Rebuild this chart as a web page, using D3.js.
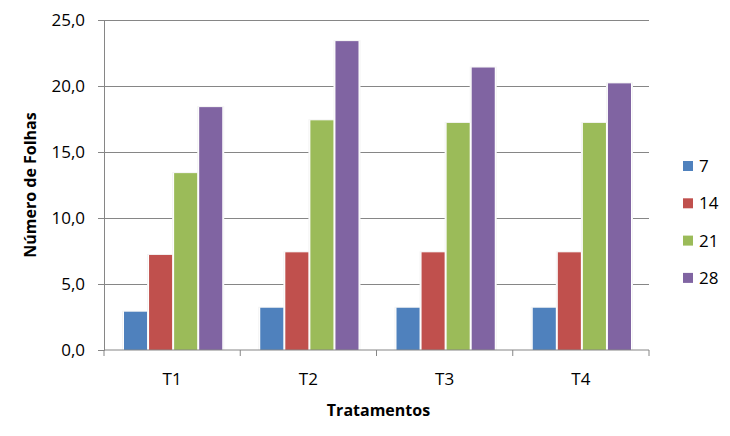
<!DOCTYPE html>
<html><head><meta charset="utf-8">
<script src="https://cdn.jsdelivr.net/npm/d3@7/dist/d3.min.js"></script>
<style>
body{margin:0;background:#fff;}
text{font-family:"Open Sans",Lato,sans-serif;fill:#000;}
</style></head>
<body><svg id="chart" width="730" height="436"></svg>
<script>
const categories = ["T1","T2","T3","T4"];
const seriesNames = ["7","14","21","28"];
const s7  = [2.9, 3.2, 3.2, 3.2];
const s14 = [7.2, 7.4, 7.4, 7.4];
const s21 = [13.4, 17.4, 17.2, 17.2];
const s28 = [18.4, 23.4, 21.4, 20.2];
const yTicks = [0,5,10,15,20,25];
const colors = ["#4F81BD","#C0504D","#9BBB59","#8064A2"];

const seriesValues = [s7, s14, s21, s28];
const svg = d3.select("#chart");
const mLeft = 104, mRight = 649, mTop = 20, mBottom = 350;

const y = d3.scaleLinear().domain([0,25]).range([mBottom, mTop]);
const x0 = d3.scaleBand().domain(categories).range([mLeft, mRight]).padding(0);
const x1 = d3.scaleBand().domain(seriesNames).range([20, x0.bandwidth()-18]).paddingInner(0.08).paddingOuter(0);
const fmt = d => d.toFixed(1).replace(".", ",");

// gridlines
svg.append("g").selectAll("line").data(yTicks.filter(t=>t>0)).join("line")
  .attr("x1", mLeft).attr("x2", mRight)
  .attr("y1", d=>y(d)).attr("y2", d=>y(d))
  .attr("stroke", "#868686").attr("stroke-width", 1).attr("shape-rendering","crispEdges");

// bars
const data = [];
categories.forEach((c,i)=>seriesNames.forEach((s,j)=>data.push({c, s, v: seriesValues[j][i], color: colors[j]})));
const gBars = svg.append("g");
gBars.selectAll("rect.sh").data(data).join("rect").attr("class","sh")
  .attr("x", d=>x0(d.c)+x1(d.s)-2)
  .attr("y", d=>y(d.v)-1)
  .attr("width", x1.bandwidth()+4)
  .attr("height", d=>mBottom-y(d.v)+1)
  .attr("fill", "#f4f4f4");
gBars.selectAll("rect.bg").data(data).join("rect").attr("class","bg")
  .attr("x", d=>x0(d.c)+x1(d.s)-1)
  .attr("y", d=>y(d.v))
  .attr("width", x1.bandwidth()+2)
  .attr("height", d=>mBottom-y(d.v))
  .attr("fill", "#fff");
gBars.selectAll("rect.bar").data(data).join("rect").attr("class","bar")
  .attr("x", d=>x0(d.c)+x1(d.s))
  .attr("y", d=>y(d.v))
  .attr("width", x1.bandwidth())
  .attr("height", d=>mBottom-y(d.v))
  .attr("fill", d=>d.color);

// y axis
const yAxis = d3.axisLeft(y).tickValues(yTicks).tickFormat(fmt).tickSize(6).tickPadding(13);
const gy = svg.append("g").attr("transform", `translate(${mLeft},0)`).call(yAxis);
gy.select(".domain").attr("stroke","#868686");
gy.selectAll(".tick line").attr("stroke","#868686");
gy.selectAll(".tick text").attr("font-size", 17).attr("font-family", "'Open Sans',sans-serif").attr("fill","#000");

// x axis
const gx = svg.append("g").attr("transform", `translate(0,${mBottom})`);
gx.append("line").attr("x1", mLeft).attr("x2", mRight).attr("y1",0).attr("y2",0).attr("stroke","#868686");
const bounds = categories.map(c=>x0(c)).concat([x0(categories[categories.length-1])+x0.bandwidth()]);
gx.selectAll("line.tk").data(bounds).join("line").attr("class","tk")
  .attr("x1", d=>d).attr("x2", d=>d).attr("y1",0).attr("y2",6).attr("stroke","#868686");
gx.selectAll("text").data(categories).join("text")
  .attr("x", d=>x0(d)+x0.bandwidth()/2).attr("y", 35)
  .attr("text-anchor","middle").attr("font-size",17).text(d=>d);

// axis titles
svg.append("text").attr("x", (mLeft+mRight)/2 + 2).attr("y", 416)
  .attr("text-anchor","middle").attr("font-size",16).attr("font-weight","bold").text("Tratamentos");
svg.append("text").attr("transform", `translate(36,${(mTop+mBottom)/2}) rotate(-90)`)
  .attr("text-anchor","middle").attr("font-size",16).attr("font-weight","bold").text("Número de Folhas");

// legend
const lg = svg.append("g").selectAll("g").data(seriesNames).join("g")
  .attr("transform", (d,i)=>`translate(683,${166 + i*37.3})`);
lg.append("rect").attr("x",0).attr("y",-5).attr("width",10).attr("height",10).attr("fill",(d,i)=>colors[i]);
lg.append("text").attr("x",16).attr("y",6).attr("font-size",17).text(d=>d);
</script></body></html>
